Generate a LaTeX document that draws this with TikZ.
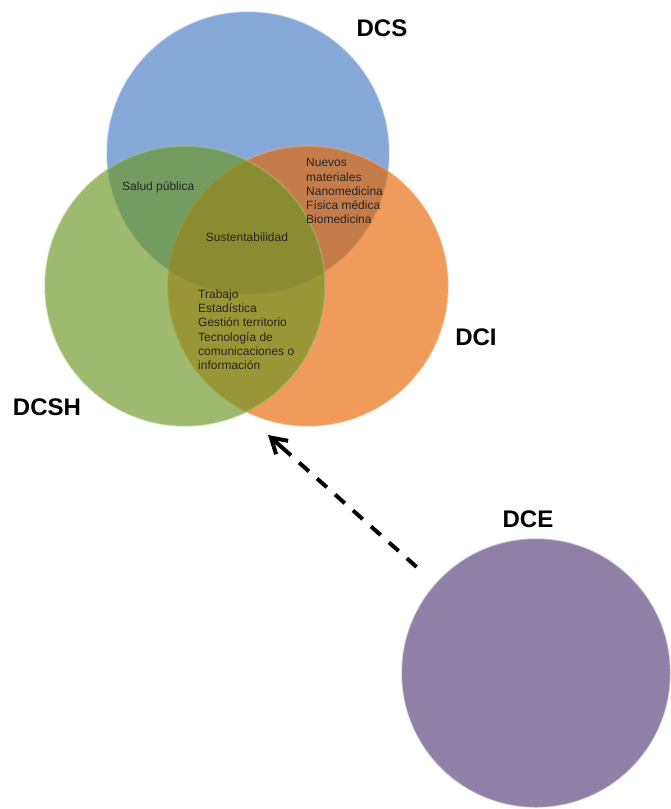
\documentclass[tikz,border=0pt]{standalone}
\usepackage{xcolor}
\usepackage{fontspec}
\setmainfont{Liberation Sans}
\usepackage{tikz}
\usetikzlibrary{arrows.meta,calc}
\definecolor{azul}{RGB}{69,122,195}
\definecolor{verde}{RGB}{106,149,34}
\definecolor{naranja}{RGB}{232,101,0}
\definecolor{morado}{RGB}{83,60,120}
\tikzset{circulo/.style={circle,fill=#1,fill opacity=0.65,draw=#1!55!white,draw opacity=0.45,line width=1.5pt,inner sep=0pt,minimum size=280pt},circulo/.default=azul}
\tikzset{rotulo/.style={font=\fontsize{24}{24}\selectfont\bfseries,text=#1,inner sep=0pt},rotulo/.default=black}
\tikzset{tema/.style={font=\fontsize{12}{14.2}\selectfont,text=#1,align=left,inner sep=0pt},tema/.default=black!85}
\tikzset{flecha/.style={line width=4pt,dash pattern=on 13pt off 11pt}}
\tikzset{punta/.style={line width=4pt,solid,-{Straight Barb[length=15pt,width=18pt,line width=4pt]}}}

\begin{document}
\begin{tikzpicture}[x=1pt,y=-1pt]

	\useasboundingbox (0,0) rectangle (670,809);

	% Los tres circulos del diagrama de Venn
	\node [circulo=azul, minimum size=282pt] (dcs) at (248,153) {};
	\node [circulo=naranja] (dci) at (308,286) {};
	\node [circulo=verde] (dcsh) at (185,286) {};

	% El circulo aparte
	\node [circulo=morado, minimum size=268pt] (dce) at (536,673) {};

	% Rotulos de las divisiones
	\node [rotulo] (dcs label)  at (382,28)  {DCS};
	\node [rotulo] (dci label)  at (476,337) {DCI};
	\node [rotulo] (dcsh label) at (47,407)  {DCSH};
	\node [rotulo] (dce label)  at (528,519) {DCE};

	% Temas en las intersecciones
	\node [tema, anchor=base west] (salud) at (122,190.5) {Salud pública};
	\node [tema, anchor=base] (sustenta) at (247,241) {Sustentabilidad};
	\node [tema, anchor=north west] (materiales) at (306,158.5)
		{Nuevos\\materiales\\Nanomedicina\\Física médica\\Biomedicina};
	\node [tema, anchor=north west] (trabajo) at (198,289.5)
		{Trabajo\\Estadística\\Gestión territorio\\Tecnología de\\comunicaciones o\\información};

	% La flecha punteada y su punta
	\coordinate (destino) at (268,435);
	\draw [flecha, shorten <=25pt, shorten >=16pt] (dce) -- (destino);
	\draw [punta] ($ (destino) ! 18pt ! (dce) $) -- (destino);

\end{tikzpicture}
\end{document}
